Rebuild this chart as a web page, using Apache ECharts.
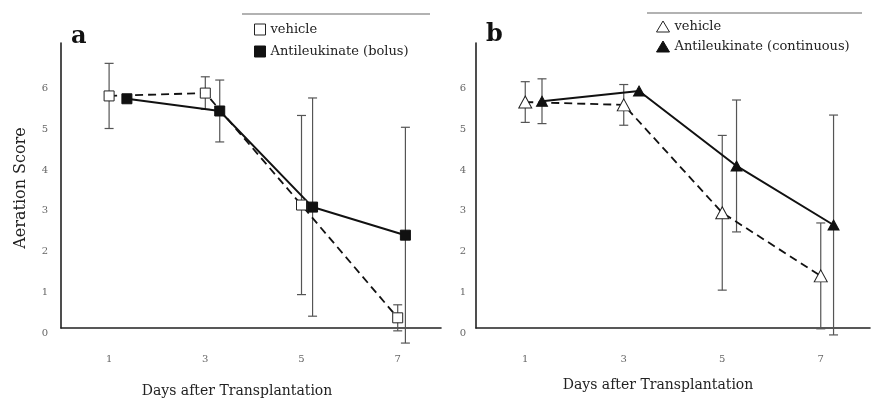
<!DOCTYPE html>
<html>
<head>
<meta charset="utf-8">
<script src="https://cdn.jsdelivr.net/npm/echarts@6/dist/echarts.min.js"></script>
<style>html,body{margin:0;padding:0;background:#fff;}#c{width:881px;height:400px;}</style>
</head>
<body>
<div id="c"></div>
<script>
// ---- Data ----
// Panel a
const daysA_vehicle = [1, 3, 5, 7];
const meanA_vehicle = [5.70, 5.77, 3.02, 0.25];
const errA_vehicle  = [0.80, 0.40, 2.20, 0.32];
const daysA_bolus   = [1.37, 3.30, 5.23, 7.16];
const meanA_bolus   = [5.63, 5.33, 2.97, 2.28];
const errA_bolus    = [null, 0.76, 2.68, 2.65];
// Panel b
const daysB_vehicle = [1, 3, 5, 7];
const meanB_vehicle = [5.55, 5.48, 2.83, 1.28];
const errB_vehicle  = [0.50, 0.50, 1.90, 1.30];
const daysB_cont    = [1.34, 3.31, 5.29, 7.26];
const meanB_cont    = [5.57, 5.82, 3.98, 2.53];
const errB_cont     = [0.55, null, 1.62, 2.70];
// Tick labels
const xTickLabels = [1, 3, 5, 7];
const yTickLabels = [0, 1, 2, 3, 4, 5, 6];
const legendA = ['vehicle', 'Antileukinate (bolus)'];
const legendB = ['vehicle', 'Antileukinate (continuous)'];

const FONT = 'DejaVu Serif';
const pts = (xs, ys) => xs.map((x, i) => [x, ys[i]]);
const errs = (xs, ys, es) => xs.map((x, i) => [x, ys[i], es[i]]).filter(d => d[2] != null);

function errorSeries(idx, data) {
  return {
    type: 'custom', xAxisIndex: idx, yAxisIndex: idx, z: 1, clip: false,
    silent: true, data: data, encode: { x: 0, y: 1 },
    renderItem: function (params, api) {
      const x = api.value(0), y = api.value(1), e = api.value(2);
      const top = api.coord([x, y + e]);
      const bot = api.coord([x, y - e]);
      const w = 4.5;
      const st = { stroke: '#555', lineWidth: 1.2 };
      return { type: 'group', children: [
        { type: 'line', shape: { x1: top[0], y1: top[1], x2: bot[0], y2: bot[1] }, style: st },
        { type: 'line', shape: { x1: top[0] - w, y1: top[1], x2: top[0] + w, y2: top[1] }, style: st },
        { type: 'line', shape: { x1: bot[0] - w, y1: bot[1], x2: bot[0] + w, y2: bot[1] }, style: st }
      ]};
    }
  };
}

function xAxis(idx, max) {
  return {
    type: 'value', gridIndex: idx, min: 0, max: max, interval: 1,
    axisLine: { lineStyle: { color: '#222', width: 1.6 } },
    axisTick: { show: false }, splitLine: { show: false },
    axisLabel: {
      margin: 26, color: '#666', fontFamily: FONT, fontSize: 10,
      formatter: v => xTickLabels.indexOf(v) >= 0 ? String(v) : ''
    }
  };
}
function yAxis(idx, margin) {
  return {
    type: 'value', gridIndex: idx, min: 0, max: 7, interval: 1,
    axisLine: { show: true, lineStyle: { color: '#222', width: 1.6 } },
    axisTick: { show: false }, splitLine: { show: false },
    axisLabel: {
      margin: margin, color: '#666', fontFamily: FONT, fontSize: 10, verticalAlign: 'top',
      formatter: v => yTickLabels.indexOf(v) >= 0 ? String(v) : ''
    }
  };
}

const openStyle = { color: '#fff', borderColor: '#222', borderWidth: 1 };
const fillStyle = { color: '#111', borderColor: '#111', borderWidth: 1 };
const dashed = { color: '#111', width: 1.8, type: [8, 5] };
const solid = { color: '#111', width: 2 };

const option = {
  backgroundColor: '#fff',
  animation: false,
  title: [
    { text: 'a', left: 66, top: 20, textStyle: { fontFamily: FONT, fontSize: 24, fontWeight: 'bold', color: '#111' } },
    { text: 'b', left: 481, top: 18, textStyle: { fontFamily: FONT, fontSize: 24, fontWeight: 'bold', color: '#111' } }
  ],
  grid: [
    { left: 61, top: 43, width: 380, bottom: 72 },
    { left: 476, top: 43, width: 394, bottom: 72 }
  ],
  xAxis: [xAxis(0, 7.9), xAxis(1, 8)],
  yAxis: [yAxis(0, 13), yAxis(1, 10)],
  legend: [
    {
      orient: 'vertical', left: 249, top: 18, itemGap: 9, itemWidth: 11, itemHeight: 11,
      textStyle: { fontFamily: FONT, fontSize: 13, color: '#222' },
      formatter: n => n.replace(/ \[[ab]\]$/, ''),
      data: [
        { name: legendA[0] + ' [a]', icon: 'rect', itemStyle: openStyle },
        { name: legendA[1], icon: 'rect', itemStyle: fillStyle }
      ]
    },
    {
      orient: 'vertical', left: 651, top: 15, itemGap: 7, itemWidth: 13, itemHeight: 11,
      textStyle: { fontFamily: FONT, fontSize: 13, color: '#222' },
      formatter: n => n.replace(/ \[[ab]\]$/, ''),
      data: [
        { name: legendB[0] + ' [b]', icon: 'triangle', itemStyle: openStyle },
        { name: legendB[1], icon: 'triangle', itemStyle: fillStyle }
      ]
    }
  ],
  graphic: [
    { type: 'line', shape: { x1: 242, y1: 14, x2: 430, y2: 14 }, style: { stroke: '#999', lineWidth: 1.5 } },
    { type: 'line', shape: { x1: 647, y1: 13, x2: 862, y2: 13 }, style: { stroke: '#999', lineWidth: 1.5 } },
    { type: 'text', x: 237, y: 391, style: { text: 'Days after Transplantation', font: '14px "DejaVu Serif"', fill: '#222', textAlign: 'center', textVerticalAlign: 'middle' } },
    { type: 'text', x: 658, y: 385, style: { text: 'Days after Transplantation', font: '14px "DejaVu Serif"', fill: '#222', textAlign: 'center', textVerticalAlign: 'middle' } },
    { type: 'text', x: 21, y: 188, rotation: Math.PI / 2, style: { text: 'Aeration Score', font: '16px "DejaVu Serif"', fill: '#222', textAlign: 'center', textVerticalAlign: 'middle' } }
  ],
  series: [
    errorSeries(0, errs(daysA_vehicle, meanA_vehicle, errA_vehicle)),
    errorSeries(0, errs(daysA_bolus, meanA_bolus, errA_bolus)),
    errorSeries(1, errs(daysB_vehicle, meanB_vehicle, errB_vehicle)),
    errorSeries(1, errs(daysB_cont, meanB_cont, errB_cont)),
    { name: legendA[1], type: 'line', xAxisIndex: 0, yAxisIndex: 0, z: 2, data: pts(daysA_bolus, meanA_bolus),
      symbol: 'rect', symbolSize: 10, itemStyle: fillStyle, lineStyle: solid },
    { name: legendA[0] + ' [a]', type: 'line', xAxisIndex: 0, yAxisIndex: 0, z: 3, data: pts(daysA_vehicle, meanA_vehicle),
      symbol: 'rect', symbolSize: 10, itemStyle: openStyle, lineStyle: dashed },
    { name: legendB[1], type: 'line', xAxisIndex: 1, yAxisIndex: 1, z: 2, data: pts(daysB_cont, meanB_cont),
      symbol: 'triangle', symbolSize: [11, 10], itemStyle: fillStyle, lineStyle: solid },
    { name: legendB[0] + ' [b]', type: 'line', xAxisIndex: 1, yAxisIndex: 1, z: 3, data: pts(daysB_vehicle, meanB_vehicle),
      symbol: 'triangle', symbolSize: [13, 12], itemStyle: openStyle, lineStyle: dashed }
  ]
};

const chart = echarts.init(document.getElementById('c'), null, { renderer: 'canvas' });
chart.setOption(option);
</script>
</body>
</html>
